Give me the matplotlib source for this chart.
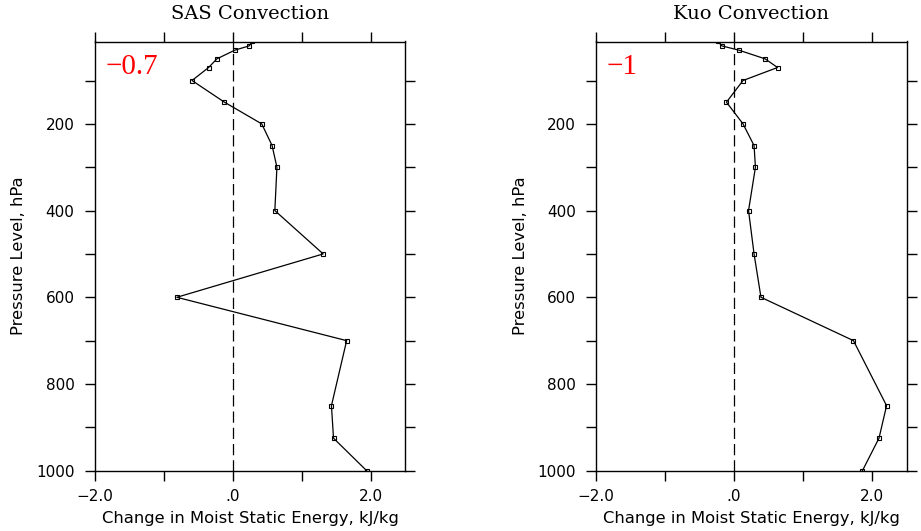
import matplotlib
matplotlib.use("Agg")
import matplotlib.pyplot as plt
from matplotlib.ticker import FixedLocator, FuncFormatter

levels = [1000, 925, 850, 700, 600, 500, 400, 300, 250, 200, 150, 100, 70, 50, 30, 20, 10]
sas_values = [1.94, 1.46, 1.43, 1.65, -0.81, 1.31, 0.61, 0.64, 0.57, 0.42, -0.12, -0.59, -0.35, -0.23, 0.03, 0.24, 0.28]
kuo_values = [1.86, 2.10, 2.21, 1.73, 0.39, 0.29, 0.21, 0.31, 0.29, 0.13, -0.11, 0.13, 0.63, 0.45, 0.07, -0.18, -0.23]
titles = ["SAS Convection", "Kuo Convection"]
annotations = ["\u22120.7", "\u22121"]
xlabel = "Change in Moist Static Energy, kJ/kg"
ylabel = "Pressure Level, hPa"
xticks = [-2, -1, 0, 1, 2]
xlabeled = {-2: "\u22122.0", 0: ".0", 2: "2.0"}
yticks = list(range(100, 1001, 100))
ylabeled = [200, 400, 600, 800, 1000]

fig = plt.figure(figsize=(9.21, 5.31), dpi=100)
fig.patch.set_facecolor("white")

lefts = [94.7 / 921, 596 / 921]
w = 310.6 / 921
b = (531 - 470.7) / 531
h = 429.2 / 531

for left, vals, title, ann in zip(lefts, [sas_values, kuo_values], titles, annotations):
    ax = fig.add_axes([left, b, w, h])
    ax.plot(vals, levels, color="black", lw=0.9, marker="s", markersize=3.4,
            markerfacecolor="none", markeredgecolor="black", markeredgewidth=0.8)
    ax.axvline(0, color="black", lw=0.9, dashes=(9, 4))
    ax.set_xlim(-2.0, 2.5)
    ax.set_ylim(1000, 10)
    ax.xaxis.set_major_locator(FixedLocator(xticks))
    ax.xaxis.set_major_formatter(FuncFormatter(lambda v, p: xlabeled.get(int(round(v)), "")))
    ax.yaxis.set_major_locator(FixedLocator(yticks))
    ax.yaxis.set_major_formatter(FuncFormatter(lambda v, p: str(int(v)) if int(v) in ylabeled else ""))
    ax.tick_params(axis="both", which="major", direction="out", length=7.5, width=1.0,
                   labelsize=11, top=True, right=True, labeltop=False, labelright=False,
                   colors="black")
    ax.tick_params(axis="y", pad=7)
    ax.tick_params(axis="x", pad=6)
    for s in ax.spines.values():
        s.set_linewidth(1.0)
        s.set_color("black")
    ax.set_xlabel(xlabel, fontsize=11.8, labelpad=5)
    ax.set_ylabel(ylabel, fontsize=11.8, labelpad=7)
    ax.set_title(title, fontsize=14, family="DejaVu Serif", pad=16)
    ax.text(0.035, 0.94, ann, transform=ax.transAxes, color="red", fontsize=21,
            family="Liberation Serif", ha="left", va="center")

fig.savefig("out.png", dpi=100, facecolor="white")
